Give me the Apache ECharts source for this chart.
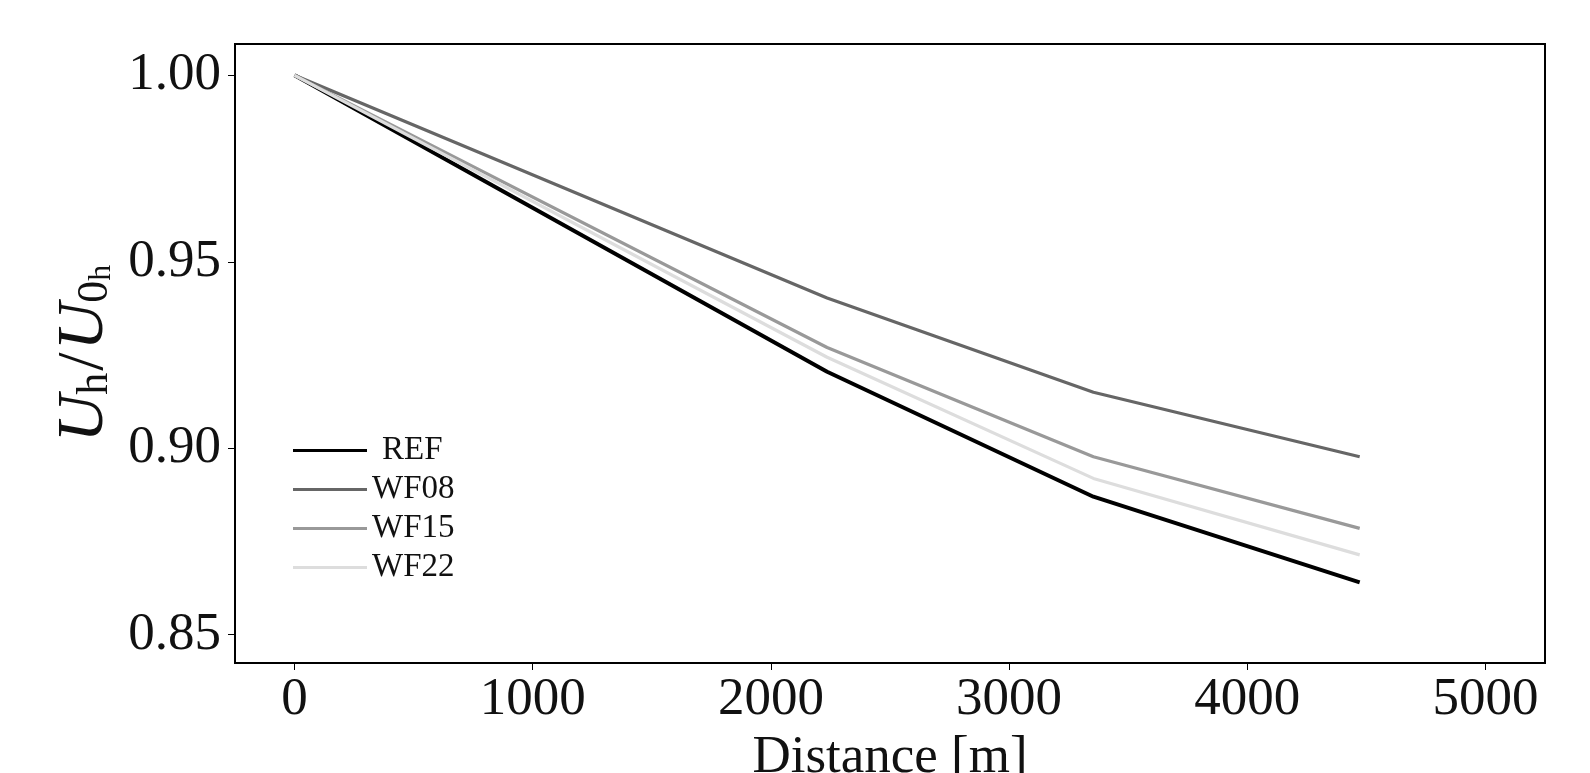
<!DOCTYPE html>
<html>
<head>
<meta charset="utf-8">
<script src="https://cdn.jsdelivr.net/npm/echarts@6/dist/echarts.min.js"></script>
<style>
  html, body { margin: 0; padding: 0; background: #fff; }
  #chart { width: 1590px; height: 773px; }
</style>
</head>
<body>
<div id="chart"></div>
<script>
// distance along the wind farm row [m]
var distance = [0, 2236, 3354, 4472];
var refValues = [1.0, 0.9205, 0.8870, 0.8640];
var wf08Values = [1.0, 0.9403, 0.9150, 0.8977];
var wf15Values = [1.0, 0.9270, 0.8977, 0.8785];
var wf22Values = [1.0, 0.9244, 0.8919, 0.8714];
var xTicks = [0, 1000, 2000, 3000, 4000, 5000];
var yTicks = [0.85, 0.90, 0.95, 1.00];

var serifFont = '"Liberation Serif", "DejaVu Serif", serif';

function pairs(ys) {
    return distance.map(function (x, i) { return [x, ys[i]]; });
}

function lineSeries(name, ys, color, width) {
    return {
        name: name,
        type: 'line',
        data: pairs(ys),
        showSymbol: false,
        color: color,
        lineStyle: { color: color, width: width },
        animation: false
    };
}

var chart = echarts.init(document.getElementById('chart'));

chart.setOption({
    backgroundColor: '#fff',
    grid: {
        left: 235, right: 45, top: 44, bottom: 110,
        outerBoundsMode: 'none', containLabel: false,
        show: true, borderColor: '#000', borderWidth: 2
    },
    legend: {
        left: 288, top: 429, orient: 'vertical',
        icon: 'rect', itemWidth: 74, itemHeight: 3, itemGap: 6,
        formatter: function (name) {
            return name === 'REF' ? '{p|REF}' : name;
        },
        textStyle: {
            fontFamily: serifFont, fontSize: 33, color: '#111', lineHeight: 32,
            rich: { p: { fontFamily: serifFont, fontSize: 33, color: '#111', padding: [0, 0, 0, 10] } }
        },
        data: ['REF', 'WF08', 'WF15', 'WF22']
    },
    xAxis: {
        type: 'value', min: -250, max: 5250,
        name: 'Distance [m]', nameLocation: 'middle', nameGap: 56,
        nameTextStyle: { fontFamily: serifFont, fontSize: 53, color: '#111' },
        splitLine: { show: false },
        axisLine: { show: true, onZero: false, lineStyle: { color: '#000', width: 2 } },
        axisTick: { show: true, customValues: xTicks, length: 7, lineStyle: { color: '#000', width: 1 } },
        axisLabel: {
            customValues: xTicks, margin: 11, fontFamily: serifFont, fontSize: 53, color: '#111',
            formatter: function (v) { return String(v); }
        }
    },
    yAxis: {
        type: 'value', min: 0.8424, max: 1.0084,
        name: '{u|U}{s|h}{r|/}{u|U}{s|0}{ss|h}',
        nameLocation: 'middle', nameRotate: 90, nameGap: 104,
        nameTextStyle: {
            fontFamily: serifFont, color: '#111',
            rich: {
                u: { fontFamily: serifFont, fontSize: 66, fontStyle: 'italic', color: '#111', lineHeight: 66, verticalAlign: 'top' },
                r: { fontFamily: serifFont, fontSize: 66, color: '#111', lineHeight: 66, verticalAlign: 'top', padding: [0, 2, 0, 2] },
                s: { fontFamily: serifFont, fontSize: 44, color: '#111', lineHeight: 38, verticalAlign: 'bottom' },
                ss: { fontFamily: serifFont, fontSize: 32, color: '#111', lineHeight: 26, verticalAlign: 'bottom' }
            }
        },
        splitLine: { show: false },
        axisLine: { show: true, onZero: false, lineStyle: { color: '#000', width: 2 } },
        axisTick: { show: true, customValues: yTicks, length: 7, lineStyle: { color: '#000', width: 1 } },
        axisLabel: {
            customValues: yTicks, margin: 14, fontFamily: serifFont, fontSize: 53, color: '#111',
            formatter: function (v) { return v.toFixed(2); }
        }
    },
    series: [
        lineSeries('REF', refValues, '#000000', 4),
        lineSeries('WF08', wf08Values, '#666666', 3.2),
        lineSeries('WF15', wf15Values, '#999999', 3.2),
        lineSeries('WF22', wf22Values, '#dddddd', 3.2)
    ]
});
</script>
</body>
</html>
